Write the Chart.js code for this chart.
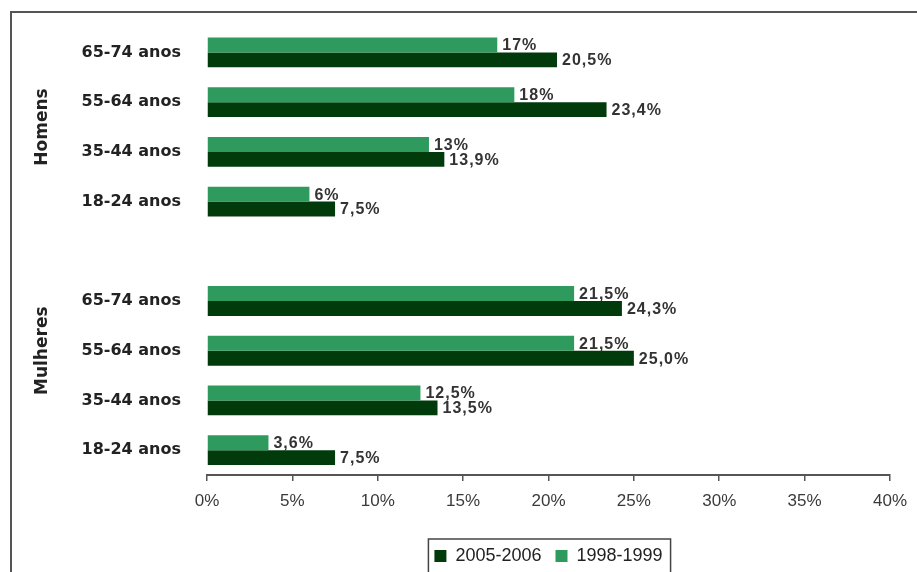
<!DOCTYPE html>
<html>
<head>
<meta charset="utf-8">
<script src="https://cdn.jsdelivr.net/npm/chart.js@4"></script>
<style>
    body { margin: 0; background: #fff; overflow: hidden; }
    #frame { position: absolute; left: 10px; top: 11px; width: 1000px; height: 700px;
             border-left: 2px solid #555; border-top: 2px solid #555; }
    #wrap { position: absolute; left: 0; top: 0; width: 917px; height: 572px; }
</style>
</head>
<body>
<div id="frame"></div>
<div id="wrap"><canvas id="chart" width="917" height="572"></canvas></div>
<script>
// categories (empty slot separates the two groups)
const ageLabels = ['65-74 anos', '55-64 anos', '35-44 anos', '18-24 anos', '',
                   '65-74 anos', '55-64 anos', '35-44 anos', '18-24 anos'];
const groupNames = ['Homens', 'Mulheres'];

// series values (%)
const values1998 = [17, 18, 13, 6, null, 21.5, 21.5, 12.5, 3.6];
const values2005 = [20.5, 23.4, 13.9, 7.5, null, 24.3, 25.0, 13.5, 7.5];

// value labels as printed on the chart
const text1998 = ['17%', '18%', '13%', '6%', '', '21,5%', '21,5%', '12,5%', '3,6%'];
const text2005 = ['20,5%', '23,4%', '13,9%', '7,5%', '', '24,3%', '25,0%', '13,5%', '7,5%'];

const xTicks = [0, 5, 10, 15, 20, 25, 30, 35, 40];

const lightGreen = '#2f9a5e';
const darkGreen = '#023b0b';

// value labels next to bar ends
const valueLabels = {
    id: 'valueLabels',
    afterDatasetsDraw(chart) {
        const ctx = chart.ctx;
        const texts = [text1998, text2005];
        ctx.save();
        ctx.font = 'bold 16px "Liberation Sans", Arial, sans-serif';
        ctx.fillStyle = '#333';
        ctx.textBaseline = 'middle';
        ctx.textAlign = 'left';
        if ('letterSpacing' in ctx) ctx.letterSpacing = '1px';
        chart.data.datasets.forEach((ds, i) => {
            const meta = chart.getDatasetMeta(i);
            meta.data.forEach((bar, j) => {
                if (ds.data[j] == null) return;
                ctx.fillText(texts[i][j], bar.x + 5, bar.y + 1);
            });
        });
        ctx.restore();
    }
};

// rotated group names on the left
const groupLabels = {
    id: 'groupLabels',
    afterDraw(chart) {
        const ctx = chart.ctx;
        const y = chart.scales.y;
        const positions = [
            (y.getPixelForValue(0) + y.getPixelForValue(3)) / 2,
            y.getPixelForValue(6)
        ];
        ctx.save();
        ctx.font = 'bold 17px "DejaVu Sans", sans-serif';
        ctx.fillStyle = '#222';
        ctx.textAlign = 'center';
        ctx.textBaseline = 'middle';
        groupNames.forEach((name, i) => {
            ctx.save();
            ctx.translate(43, positions[i]);
            ctx.rotate(-Math.PI / 2);
            ctx.fillText(name, 0, 0);
            ctx.restore();
        });
        ctx.restore();
    }
};

// legend centred under the plot area, with a box around it
const legendBox = {
    id: 'legendBox',
    afterLayout(chart) {
        const lg = chart.legend;
        lg.left = chart.chartArea.left;
        lg.right = chart.chartArea.right;
        lg.width = lg.right - lg.left;
        lg.top += 3;
        lg.bottom += 3;
    },
    afterDraw(chart) {
        const boxes = chart.legend.legendHitBoxes;
        if (!boxes || !boxes.length) return;
        const left = Math.min(...boxes.map(b => b.left)) - 6;
        const right = Math.max(...boxes.map(b => b.left + b.width)) + 8;
        const top = boxes[0].top - 8;
        const ctx = chart.ctx;
        ctx.save();
        ctx.strokeStyle = '#444';
        ctx.lineWidth = 1.5;
        ctx.strokeRect(left, top, right - left, 60);
        ctx.restore();
    }
};

new Chart(document.getElementById('chart'), {
    type: 'bar',
    data: {
        labels: ageLabels,
        datasets: [
            {
                label: '1998-1999',
                data: values1998,
                backgroundColor: lightGreen,
                borderWidth: 0
            },
            {
                label: '2005-2006',
                data: values2005,
                backgroundColor: darkGreen,
                borderWidth: 0
            }
        ]
    },
    options: {
        indexAxis: 'y',
        responsive: false,
        animation: false,
        layout: { padding: { top: 18.5, right: 26, left: 0, bottom: 0 } },
        datasets: { bar: { categoryPercentage: 0.6, barPercentage: 1 } },
        scales: {
            y: {
                grid: { display: false },
                border: { display: false },
                ticks: {
                    padding: 18,
                    color: '#222',
                    font: { family: '"DejaVu Sans", sans-serif', size: 16, weight: 'bold' }
                },
                afterFit(scale) { scale.width = 207; }
            },
            x: {
                min: 0,
                max: 40,
                afterBuildTicks(scale) { scale.ticks = xTicks.map(v => ({ value: v })); },
                grid: { drawOnChartArea: false, tickLength: 6, color: '#555', lineWidth: 1.5 },
                border: { color: '#555', width: 2 },
                ticks: {
                    padding: 10,
                    color: '#3a3a3a',
                    font: { family: '"Liberation Sans", Arial, sans-serif', size: 17 },
                    callback: v => v + '%'
                },
                afterFit(scale) { scale.height = 55; }
            }
        },
        plugins: {
            legend: {
                position: 'bottom',
                reverse: true,
                labels: {
                    boxWidth: 12,
                    boxHeight: 12,
                    padding: 14,
                    color: '#222',
                    font: { family: '"Liberation Sans", Arial, sans-serif', size: 18 }
                }
            },
            tooltip: { enabled: false }
        }
    },
    plugins: [valueLabels, groupLabels, legendBox]
});
</script>
</body>
</html>
